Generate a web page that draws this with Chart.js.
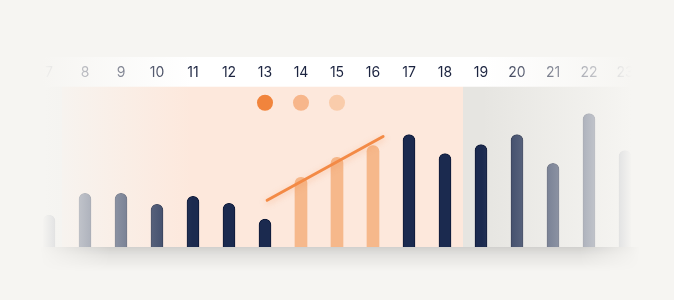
<!DOCTYPE html>
<html>
<head>
<meta charset="utf-8">
<script src="https://cdn.jsdelivr.net/npm/chart.js@4.4.1/dist/chart.umd.min.js"></script>
<style>
  html, body { margin: 0; background: #f6f5f2; }
  #wrap { width: 674px; height: 300px; position: relative; }
</style>
</head>
<body>
<div id="wrap"><canvas id="chart" width="674" height="300"></canvas></div>
<script>
// hours shown along the top
const hours = ['7', '8', '9', '10', '11', '12', '13', '14', '15', '16', '17', '18', '19', '20', '21', '22', '23'];
// bar values
const activity = [32, 54, 54, 43, 51, 44, 28, 70, 90, 102, 113, 94, 103, 113, 84, 134, 97];
// hours drawn in orange
const highlightHours = ['14', '15', '16'];
// the three dots over 13..15
const dotHours = ['13', '14', '15'];
const dotLevel = 145;
// trend line end points (hour, value)
const trendHours = [13.06, 16.28];
const trendValues = [47, 111];
// last hour of the orange zone
const zoneEndHour = '18';

const BG = '#f6f5f2';
const NAVY = '#1b2a4f';
const ORANGE_BAR = '#f6b88b';
const dotColors = ['#f1843c', '#f7b68b', '#f9ccab'];

const barColors = hours.map(h => highlightHours.includes(h) ? ORANGE_BAR : NAVY);
const barBorders = hours.map(h => highlightHours.includes(h) ? ORANGE_BAR : '#0e1937');
const barBorderWidths = hours.map(h => highlightHours.includes(h) ? 0 : 1);
const dotData = hours.map(h => dotHours.includes(h) ? dotLevel : null);
const dotPointColors = hours.map(h => {
  const i = dotHours.indexOf(h);
  return i >= 0 ? dotColors[i] : 'transparent';
});

const panelBackground = {
  id: 'panelBackground',
  beforeDraw(chart) {
    const { ctx, chartArea } = chart;
    const x = chart.scales.x;
    ctx.save();
    ctx.fillStyle = BG;
    ctx.fillRect(0, 0, chart.width, chart.height);

    // white label band
    ctx.fillStyle = '#ffffff';
    ctx.fillRect(40, 57, 594, chartArea.top - 57);

    const endIdx = hours.indexOf(zoneEndHour);
    const split = (x.getPixelForValue(endIdx) + x.getPixelForValue(endIdx + 1)) / 2;

    ctx.fillStyle = '#efeeea';
    ctx.fillRect(46, chartArea.top, 16, chartArea.bottom - chartArea.top);
    ctx.fillStyle = '#fde8dc';
    ctx.fillRect(62, chartArea.top, split - 62, chartArea.bottom - chartArea.top);
    ctx.fillStyle = '#e6e5e1';
    ctx.fillRect(split, chartArea.top, 634 - split, chartArea.bottom - chartArea.top);
    ctx.restore();
  }
};

const edgeFade = {
  id: 'edgeFade',
  afterDraw(chart) {
    const { ctx, chartArea } = chart;
    const w = chart.width;
    ctx.save();
    const g = ctx.createLinearGradient(0, 0, w, 0);
    g.addColorStop(0, 'rgba(246,245,242,1)');
    g.addColorStop(42 / w, 'rgba(246,245,242,1)');
    g.addColorStop(192 / w, 'rgba(246,245,242,0)');
    g.addColorStop(482 / w, 'rgba(246,245,242,0)');
    g.addColorStop(632 / w, 'rgba(246,245,242,1)');
    g.addColorStop(1, 'rgba(246,245,242,1)');
    ctx.fillStyle = g;
    ctx.fillRect(0, 50, w, chartArea.bottom - 50);

    // soft shadow under the baseline
    const off = document.createElement('canvas');
    off.width = w;
    off.height = 30;
    const o = off.getContext('2d');
    const v = o.createLinearGradient(0, 0, 0, 24);
    v.addColorStop(0, 'rgba(0,0,0,0.15)');
    v.addColorStop(0.35, 'rgba(0,0,0,0.07)');
    v.addColorStop(1, 'rgba(0,0,0,0)');
    o.fillStyle = v;
    o.fillRect(0, 0, w, 30);
    o.globalCompositeOperation = 'destination-in';
    const hz = o.createLinearGradient(0, 0, w, 0);
    hz.addColorStop(40 / w, 'rgba(0,0,0,0)');
    hz.addColorStop(110 / w, 'rgba(0,0,0,1)');
    hz.addColorStop(580 / w, 'rgba(0,0,0,1)');
    hz.addColorStop(640 / w, 'rgba(0,0,0,0)');
    o.fillStyle = hz;
    o.fillRect(0, 0, w, 30);
    ctx.drawImage(off, 0, chartArea.bottom);
    ctx.restore();
  }
};

const lineGlow = {
  id: 'lineGlow',
  beforeDatasetDraw(chart, args) {
    if (args.meta.label !== 'Trend') return;
    const ctx = chart.ctx;
    ctx.save();
    ctx.shadowColor = 'rgba(242,135,70,0.35)';
    ctx.shadowBlur = 6;
    ctx.shadowOffsetY = 2;
  },
  afterDatasetDraw(chart, args) {
    if (args.meta.label !== 'Trend') return;
    chart.ctx.restore();
  }
};

new Chart(document.getElementById('chart'), {
  type: 'bar',
  data: {
    labels: hours,
    datasets: [
      {
        type: 'line',
        label: 'Trend',
        xAxisID: 'x2',
        data: trendHours.map((h, i) => ({ x: h, y: trendValues[i] })),
        borderColor: '#f38a46',
        borderWidth: 3,
        borderCapStyle: 'round',
        pointRadius: 0,
        order: 0
      },
      {
        type: 'line',
        label: 'Dots',
        data: dotData,
        showLine: false,
        pointRadius: 8,
        pointHoverRadius: 8,
        pointBorderWidth: 0,
        pointBackgroundColor: dotPointColors,
        order: 1
      },
      {
        label: 'Activity',
        data: activity,
        backgroundColor: barColors,
        borderColor: barBorders,
        borderWidth: barBorderWidths,
        borderSkipped: 'start',
        borderRadius: { topLeft: 6, topRight: 6, bottomLeft: 0, bottomRight: 0 },
        barThickness: 12,
        grouped: false,
        order: 2
      }
    ]
  },
  options: {
    responsive: false,
    animation: false,
    layout: {
      padding: { left: 31, right: 31, top: 58, bottom: 53 }
    },
    plugins: {
      legend: { display: false },
      tooltip: { enabled: false }
    },
    scales: {
      x: {
        position: 'top',
        offset: true,
        grid: { display: false, drawTicks: false },
        border: { display: false },
        ticks: {
          padding: 6,
          color: '#1c2440',
          font: { family: 'Inter', size: 14, weight: '400' },
          maxRotation: 0,
          autoSkip: false
        }
      },
      x2: {
        type: 'linear',
        display: false,
        offset: false,
        bounds: 'ticks',
        grace: 0,
        min: 6.5,
        max: 23.5
      },
      y: {
        display: false,
        min: 0,
        max: 161
      }
    }
  },
  plugins: [panelBackground, lineGlow, edgeFade]
});
</script>
</body>
</html>
